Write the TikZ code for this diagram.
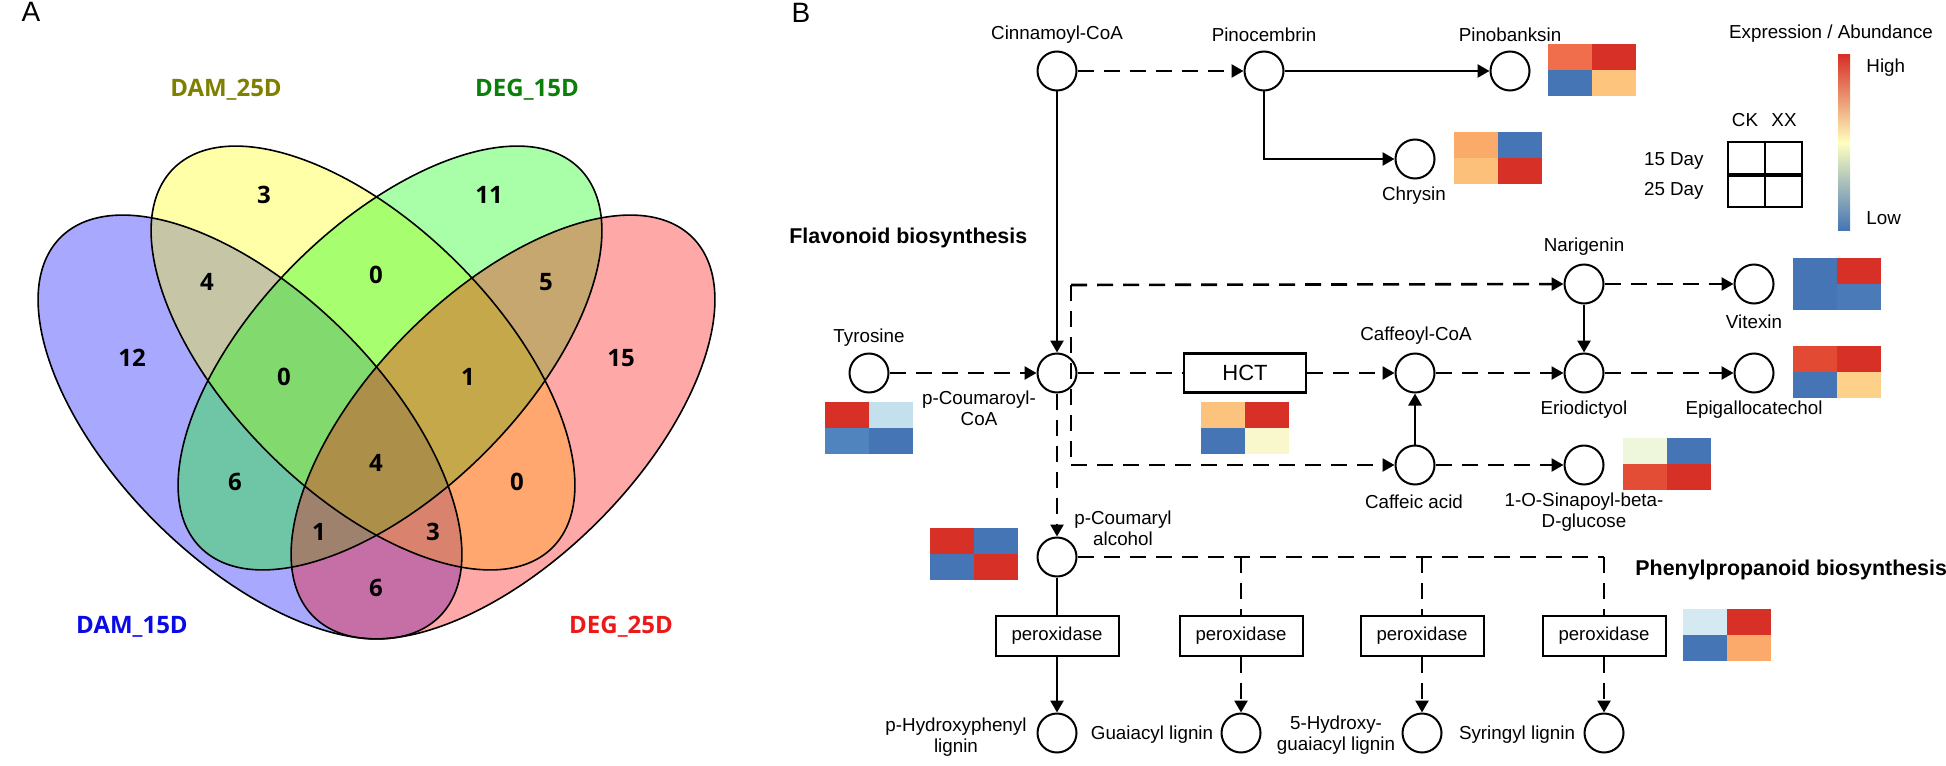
\documentclass[tikz,border=0pt]{standalone}
\usepackage{fontspec}
\setmainfont{Liberation Sans}
\newfontfamily\vennfont{Open Sans}
\usetikzlibrary{arrows.meta}
\definecolor{hRed}{HTML}{D73027}
\definecolor{hBlue}{HTML}{4575B4}
\definecolor{vBlue}{RGB}{0,0,255}
\definecolor{vYel}{RGB}{255,255,0}
\definecolor{vGrn}{RGB}{0,255,0}
\definecolor{vRed}{RGB}{255,0,0}
\definecolor{lOlive}{RGB}{128,128,0}
\definecolor{lGreen}{RGB}{10,128,10}
\definecolor{lBlue}{RGB}{10,10,230}
\definecolor{lRed}{RGB}{235,25,25}
\newcommand{\heat}[6]{%
  \definecolor{hcA}{HTML}{#3}\definecolor{hcB}{HTML}{#4}%
  \definecolor{hcC}{HTML}{#5}\definecolor{hcD}{HTML}{#6}%
  \fill[hcA] (#1,#2) rectangle ++(44,26);
  \fill[hcB] (#1+44,#2) rectangle ++(44,26);
  \fill[hcC] (#1,#2+26) rectangle ++(44,26);
  \fill[hcD] (#1+44,#2+26) rectangle ++(44,26);}
\begin{document}
\begin{tikzpicture}[x=0.5pt,y=-0.5pt,
  met/.style={circle, draw, line width=1pt, minimum size=19.5pt, inner sep=0pt},
  enz/.style={draw, line width=1pt, minimum width=61.5pt, minimum height=20pt, inner sep=0pt, font=\fontsize{9.3}{11}\selectfont},
  lbl/.style={font=\fontsize{9.4}{10.5}\selectfont, inner sep=0pt, align=center},
  ttl/.style={font=\fontsize{10.7}{12}\selectfont\bfseries, inner sep=0pt},
  pnl/.style={font=\fontsize{14}{16}\selectfont, inner sep=0pt},
  vnum/.style={font=\vennfont\fontsize{12}{14}\selectfont\bfseries, inner sep=0pt},
  con/.style={line width=1.3pt},
  arr/.style={con, -{Triangle[length=6pt,width=6.5pt]}},
  dsh/.style={dash pattern=on 8pt off 5pt},
  vell/.style={x radius=134pt, y radius=67pt}
]
\useasboundingbox (0,0) rectangle (1946,765);
% ---------------- Panel A ----------------
\node[pnl] (pA) at (31,12) {A};
\foreach \c/\x/\y/\r in {vBlue/250/427/-45, vYel/363/358/-45, vGrn/390/358/45, vRed/503/427/45}
  \fill[\c, fill opacity=0.34, rotate around={\r:(\x,\y)}] (\x,\y) ellipse [vell];
\foreach \x/\y/\r in {250/427/-45, 363/358/-45, 390/358/45, 503/427/45}
  \draw[line width=0.8pt, rotate around={\r:(\x,\y)}] (\x,\y) ellipse [vell];
\node[vnum] (v1) at (264,195) {3};
\node[vnum] (v2) at (489,195) {11};
\node[vnum] (v3) at (207,282) {4};
\node[vnum] (v4) at (376,275) {0};
\node[vnum] (v5) at (546,282) {5};
\node[vnum] (v6) at (132,358) {12};
\node[vnum] (v7) at (284,377) {0};
\node[vnum] (v8) at (468,377) {1};
\node[vnum] (v9) at (621,358) {15};
\node[vnum] (v10) at (376,463) {4};
\node[vnum] (v11) at (235,482) {6};
\node[vnum] (v12) at (517,482) {0};
\node[vnum] (v13) at (319,532) {1};
\node[vnum] (v14) at (433,532) {3};
\node[vnum] (v15) at (376,588) {6};
\node[vnum, text=lOlive] (s2) at (226,90) {DAM\_25D};
\node[vnum, text=lGreen] (s3) at (527,90) {DEG\_15D};
\node[vnum, text=lBlue] (s1) at (132,627) {DAM\_15D};
\node[vnum, text=lRed] (s4) at (621,627) {DEG\_25D};
% ---------------- Panel B ----------------
\node[pnl] (pB) at (801,13) {B};
\node[ttl, anchor=west] (flav) at (789,238) {Flavonoid biosynthesis};
\node[ttl, anchor=west] (phen) at (1635,570) {Phenylpropanoid biosynthesis};
% metabolites
\node[met] (cin) at (1057,71) {};
\node[met] (pino) at (1264,71) {};
\node[met] (pinob) at (1510,71) {};
\node[met] (chry) at (1415,159) {};
\node[met] (tyr) at (869,373) {};
\node[met] (pcoa) at (1057,373) {};
\node[draw, line width=1.2pt, minimum width=61pt, minimum height=19.5pt, inner sep=0pt, font=\fontsize{11}{13}\selectfont] (hct) at (1245,373) {HCT};
\node[met] (caff) at (1415,373) {};
\node[met] (erio) at (1584,373) {};
\node[met] (epi) at (1754,373) {};
\node[met] (nar) at (1584,284) {};
\node[met] (vit) at (1754,284) {};
\node[met] (cafa) at (1415,465) {};
\node[met] (sin) at (1584,465) {};
\node[met] (palc) at (1057,557) {};
\node[enz] (px1) at (1057,636) {peroxidase};
\node[enz] (px2) at (1241,636) {peroxidase};
\node[enz] (px3) at (1422,636) {peroxidase};
\node[enz] (px4) at (1604,636) {peroxidase};
\node[met] (lg1) at (1057,733) {};
\node[met] (lg2) at (1241,733) {};
\node[met] (lg3) at (1422,733) {};
\node[met] (lg4) at (1604,733) {};
% labels
\node[lbl] (cinL) at (1057,35) {Cinnamoyl-CoA};
\node[lbl] (pinoL) at (1264,35) {Pinocembrin};
\node[lbl] (pinobL) at (1510,35) {Pinobanksin};
\node[lbl] (chryL) at (1414,196) {Chrysin};
\node[lbl] (tyrL) at (869,338) {Tyrosine};
\node[lbl] (pcoaL) at (979,408) {p-Coumaroyl-\\CoA};
\node[lbl] (caffL) at (1416,336) {Caffeoyl-CoA};
\node[lbl] (narL) at (1584,247) {Narigenin};
\node[lbl] (vitL) at (1754,322) {Vitexin};
\node[lbl] (erioL) at (1584,410) {Eriodictyol};
\node[lbl] (epiL) at (1754,410) {Epigallocatechol};
\node[lbl] (cafaL) at (1414,502) {Caffeic acid};
\node[lbl] (sinL) at (1584,512) {1-O-Sinapoyl-beta-\\D-glucose};
\node[lbl] (palcL) at (1123,528) {p-Coumaryl\\alcohol};
\node[lbl] (lg1L) at (956,737) {p-Hydroxyphenyl\\lignin};
\node[lbl] (lg2L) at (1152,735) {Guaiacyl lignin};
\node[lbl] (lg3L) at (1336,735) {5-Hydroxy-\\guaiacyl lignin};
\node[lbl] (lg4L) at (1517,735) {Syringyl lignin};
% connectors
\draw[arr, dsh] (cin) -- (pino);
\draw[arr] (cin) -- (pcoa);
\draw[arr] (pino) -- (pinob);
\draw[arr] (pino.south) |- (chry.west);
\draw[arr, dsh] (tyr) -- (pcoa);
\draw[con, dsh] (pcoa) -- (hct);
\draw[arr, dsh] (hct) -- (caff);
\coordinate (bt) at (1071,285);
\coordinate (bb) at (1071,465);
\draw[con, dsh] (bt) -- (bb);
\draw[arr, dsh] (bt) -- (nar);
\draw[arr, dsh] (bb) -- (cafa);
\draw[arr, dsh] (nar) -- (vit);
\draw[arr] (nar) -- (erio);
\draw[arr, dsh] (caff) -- (erio);
\draw[arr, dsh] (erio) -- (epi);
\draw[arr] (cafa) -- (caff);
\draw[arr, dsh] (cafa) -- (sin);
\draw[arr, dsh] (pcoa) -- (palc);
\draw[line width=0.9pt] (palc) -- (px1);
\draw[arr] (px1) -- (lg1);
\coordinate (h2) at (1241,557);
\coordinate (h3) at (1422,557);
\coordinate (h4) at (1604,557);
\draw[con, dsh] (palc.east) -- (h4);
\draw[con, dsh] (h2) -- (px2);
\draw[con, dsh] (h3) -- (px3);
\draw[con, dsh] (h4) -- (px4);
\draw[arr, dsh] (px2) -- (lg2);
\draw[arr, dsh] (px3) -- (lg3);
\draw[arr, dsh] (px4) -- (lg4);
% heatmaps
\heat{1548}{44}{F06E4B}{D73027}{4575B4}{FDC47E}
\heat{1454}{132}{FAAA69}{4575B4}{FDC07A}{D73027}
\heat{1793}{258}{4575B4}{D73027}{4575B4}{4A7AB8}
\heat{1793}{346}{E34A33}{D73027}{4575B4}{FED18A}
\heat{825}{402}{D73027}{C4E0EC}{4F84BE}{4575B4}
\heat{1201}{402}{FBC37D}{D73027}{4575B4}{F8F8CC}
\heat{1623}{438}{EEF6DC}{4575B4}{E34D35}{D73027}
\heat{930}{528}{D73027}{4575B4}{4575B4}{D73027}
\heat{1683}{609}{D4E9F1}{D73027}{4575B4}{FCA96C}
% legend
\node[lbl] (legT) at (1831,34) {Expression / Abundance};
\shade[top color=hRed, middle color={rgb,255:red,253;green,174;blue,97}, bottom color={rgb,255:red,255;green,255;blue,191}] (1838,55) rectangle (1850,143);
\shade[top color={rgb,255:red,255;green,255;blue,191}, middle color={rgb,255:red,171;green,217;blue,233}, bottom color=hBlue] (1838,142.5) rectangle (1850,230);
\node[lbl, anchor=west] (hi) at (1866,68) {High};
\node[lbl, anchor=west] (lo) at (1866,218) {Low};
\node[lbl] (ck) at (1745,120) {CK};
\node[lbl] (xx) at (1784,120) {XX};
\node[lbl, anchor=east] (d15) at (1704,161) {15 Day};
\node[lbl, anchor=east] (d25) at (1704,191) {25 Day};
\draw[line width=1pt] (1728,142) rectangle (1802,207) (1765,142) -- (1765,207);
\draw[line width=2pt] (1728,175) -- (1802,175);
\end{tikzpicture}
\end{document}
